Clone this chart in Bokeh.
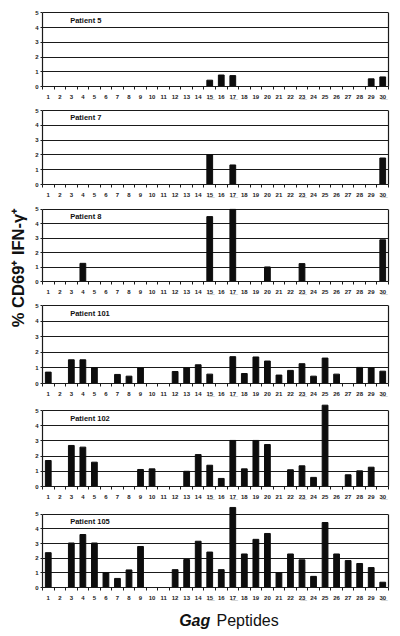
from bokeh.plotting import figure
from bokeh.layouts import column, row
from bokeh.models import FixedTicker, LinearAxis, Range1d, Label
from bokeh.embed import file_html
from bokeh.resources import INLINE

# ---------------- data ----------------
peptides = list(range(1, 31))
underlined = [15, 17, 23, 30]
patients = ["Patient 5", "Patient 7", "Patient 8", "Patient 101", "Patient 102", "Patient 105"]

p5 = [0, 0, 0, 0, 0, 0, 0, 0, 0, 0, 0, 0, 0, 0, 0.43, 0.78, 0.74, 0, 0, 0,
      0, 0, 0, 0, 0, 0, 0, 0, 0.52, 0.65]
p7 = [0, 0, 0, 0, 0, 0, 0, 0, 0, 0, 0, 0, 0, 0, 2.02, 0, 1.32, 0, 0, 0,
      0, 0, 0, 0, 0, 0, 0, 0, 0, 1.79]
p8 = [0, 0, 0, 1.26, 0, 0, 0, 0, 0, 0, 0, 0, 0, 0, 4.5, 0, 5.0, 0, 0, 1.01,
      0, 0, 1.24, 0, 0, 0, 0, 0, 0, 2.89]
p101 = [0.73, 0, 1.52, 1.52, 1.01, 0, 0.58, 0.47, 1.0, 0, 0, 0.77, 1.0, 1.2, 0.6,
        0, 1.72, 0.64, 1.7, 1.44, 0.54, 0.84, 1.27, 0.47, 1.63, 0.6, 0, 1.03, 1.0, 0.79]
p102 = [1.71, 0, 2.7, 2.59, 1.6, 0, 0, 0, 1.12, 1.16, 0, 0, 1.0, 2.1, 1.4,
        0.53, 3.03, 1.16, 3.03, 2.76, 0, 1.1, 1.36, 0.6, 5.35, 0, 0.77, 1.03, 1.27, 0]
p105 = [2.38, 0, 3.04, 3.62, 3.04, 1.02, 0.62, 1.2, 2.8, 0, 0, 1.22, 1.91, 3.16, 2.42,
        1.22, 5.47, 2.29, 3.29, 3.69, 1.02, 2.29, 1.89, 0.76, 4.44, 2.29, 1.84, 1.64, 1.36, 0.36]
series = [p5, p7, p8, p101, p102, p105]

y_ticks = [0, 1, 2, 3, 4, 5]
y_label = "% CD69\u207a IFN-\u03b3\u207a"
x_label_bold = "Gag"
x_label_rest = "Peptides"

# ---------------- layout (window pixels) ----------------
five_line = [13, 110, 209, 305, 410, 514]
zero_line = [90, 184, 282, 383, 486, 589]
fig_start = [0, 102, 201, 297, 402, 506, 603]
TOTAL_H = 636
LEFT_W = 30
PW = 362
FONT = "Liberation Sans"
LINE = "#1a1a1a"


def underline(s):
    return "".join(ch + "\u0332" for ch in s)


overrides = {n: (underline(str(n)) if n in underlined else str(n)) for n in peptides}

panels = []
for i, (name, vals) in enumerate(zip(patients, series)):
    t, z, s0, s1 = five_line[i], zero_line[i], fig_start[i], fig_start[i + 1]
    ymax = 5.0 * (z - s0) / (z - t)
    p = figure(width=PW, height=s1 - s0, x_range=Range1d(0.5, 30.5), y_range=Range1d(0, ymax),
               output_backend="svg", toolbar_location=None,
               min_border_left=12, min_border_right=4, min_border_top=0,
               min_border_bottom=s1 - z, outline_line_color=None,
               background_fill_color="white", border_fill_color="white")
    p.vbar(x=peptides, top=vals, width=0.5, fill_color="#0d0d0d", line_color="#0d0d0d")

    xa = p.xaxis[0]
    xa.ticker = FixedTicker(ticks=peptides, minor_ticks=[k + 0.5 for k in range(0, 31)])
    xa.major_label_overrides = overrides
    xa.major_tick_out = 0
    xa.major_tick_in = 0
    xa.minor_tick_out = 3
    xa.minor_tick_in = 0
    xa.minor_tick_line_color = LINE
    xa.axis_line_color = LINE
    xa.axis_line_width = 1.2
    xa.major_label_standoff = 4
    xa.major_label_text_font = FONT
    xa.major_label_text_font_size = "6px"
    xa.major_label_text_font_style = "bold"
    xa.major_label_text_color = "#222222"

    ya = p.yaxis[0]
    ya.ticker = FixedTicker(ticks=y_ticks)
    ya.bounds = (0, 5)
    ya.major_tick_out = 2
    ya.major_tick_in = 0
    ya.minor_tick_out = 0
    ya.minor_tick_in = 0
    ya.major_tick_line_color = LINE
    ya.axis_line_color = LINE
    ya.axis_line_width = 1.2
    ya.major_label_standoff = 2
    ya.major_label_text_font = FONT
    ya.major_label_text_font_size = "6px"
    ya.major_label_text_font_style = "bold"
    ya.major_label_text_color = "#222222"

    ra = LinearAxis(bounds=(0, 5), ticker=FixedTicker(ticks=[]), major_tick_out=0, major_tick_in=0,
                    minor_tick_out=0, minor_tick_in=0, major_label_standoff=0,
                    major_label_text_font_size="0px", axis_line_color=LINE, axis_line_width=1.2)
    p.add_layout(ra, "right")

    p.xgrid.visible = False
    p.ygrid.ticker = FixedTicker(ticks=[1, 2, 3, 4, 5])
    p.ygrid.grid_line_color = LINE
    p.ygrid.grid_line_width = 1.2

    p.add_layout(Label(x=2.9, y=4.5, text=name, text_font=FONT, text_font_size="7.5px",
                       text_font_style="bold", text_color="#111111",
                       text_align="left", text_baseline="middle"))
    panels.append(p)

# bottom axis title
BOT_H = TOTAL_H - fig_start[-1]
bot = figure(width=PW, height=BOT_H, x_range=Range1d(0, PW), y_range=Range1d(0, BOT_H),
             output_backend="svg", toolbar_location=None, x_axis_type=None, y_axis_type=None,
             min_border=0, outline_line_color=None)
bot.grid.visible = False
bot.add_layout(Label(x=143, y=BOT_H - 17, text=x_label_bold, text_font=FONT, text_font_size="16px",
                     text_font_style="bold italic", text_color="#111111",
                     text_align="left", text_baseline="middle"))
bot.add_layout(Label(x=182, y=BOT_H - 17, text=x_label_rest, text_font=FONT, text_font_size="16px",
                     text_color="#111111", text_align="left", text_baseline="middle"))

# left shared y title
lab = figure(width=LEFT_W, height=TOTAL_H, x_range=Range1d(0, LEFT_W), y_range=Range1d(0, TOTAL_H),
             output_backend="svg", toolbar_location=None, x_axis_type=None, y_axis_type=None,
             min_border=0, outline_line_color=None)
lab.grid.visible = False
lab.add_layout(Label(x=17, y=TOTAL_H - 267, text=y_label, angle=90, angle_units="deg",
                     text_font=FONT, text_font_size="16.5px", text_font_style="bold",
                     text_color="#111111", text_align="center", text_baseline="middle"))

layout = row(lab, column(*panels, bot, spacing=0), spacing=0)

open("out.html", "w").write(file_html(layout, INLINE))
